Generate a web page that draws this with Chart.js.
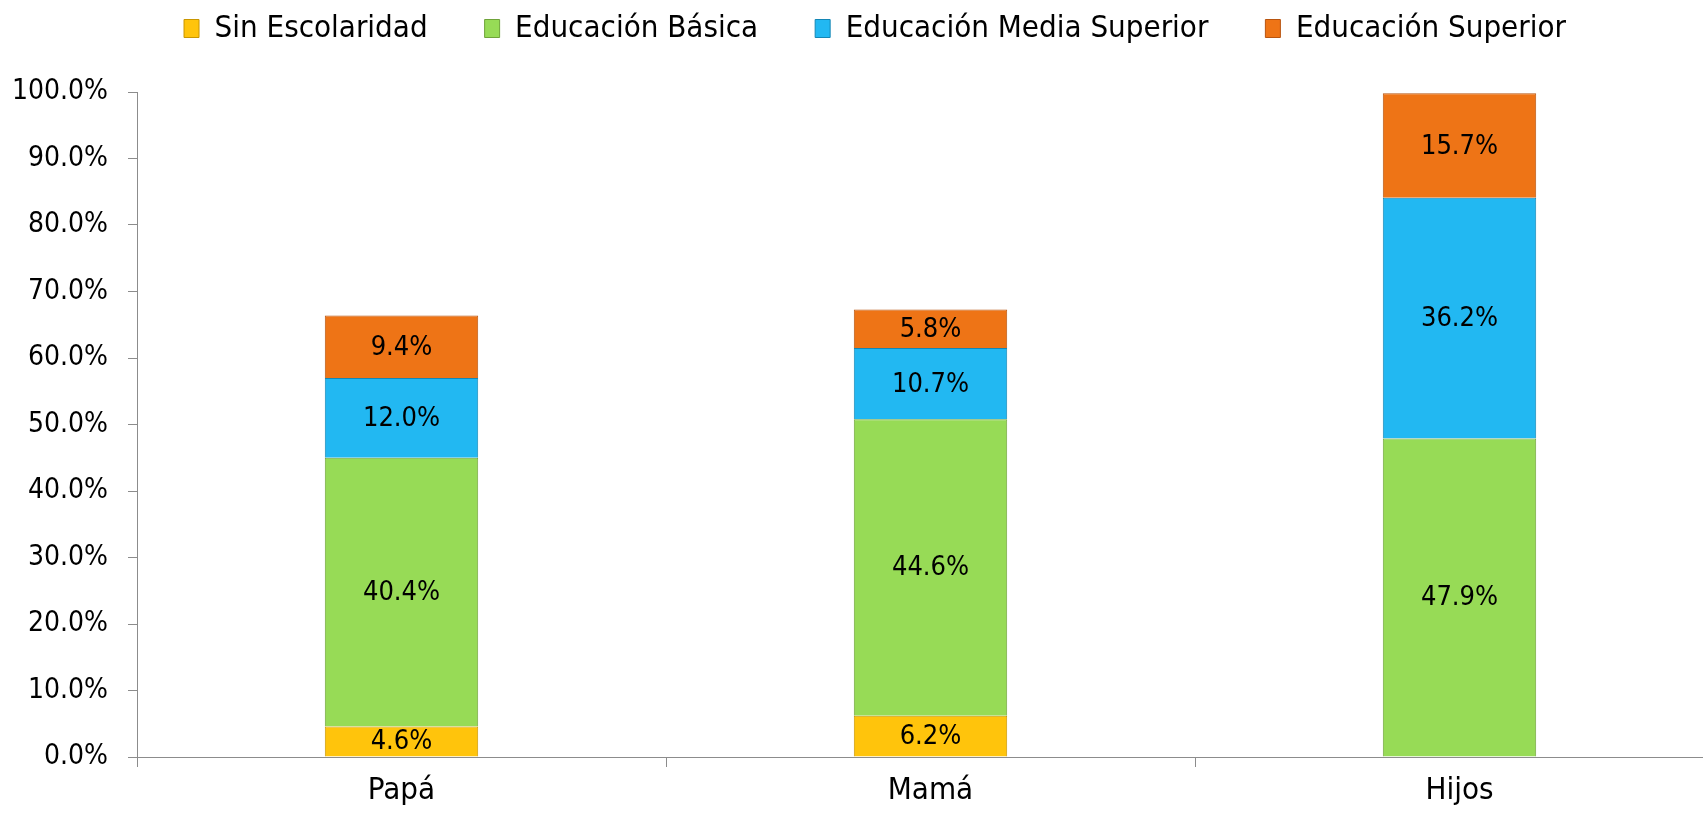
<!DOCTYPE html>
<html>
<head>
<meta charset="utf-8">
<script src="https://cdn.jsdelivr.net/npm/chart.js@4"></script>
<style>
html, body { margin: 0; padding: 0; background: #fff; overflow: hidden; }
#wrap { width: 1724px; height: 814px; }
</style>
</head>
<body>
<div id="wrap"><canvas id="c" width="1724" height="814"></canvas></div>
<script>
const categories = ['Papá', 'Mamá', 'Hijos'];
const seriesNames = ['Sin Escolaridad', 'Educación Básica', 'Educación Media Superior', 'Educación Superior'];
const sinEscolaridad = [4.6, 6.2, null];
const educacionBasica = [40.4, 44.6, 47.9];
const educacionMediaSuperior = [12.0, 10.7, 36.2];
const educacionSuperior = [9.4, 5.8, 15.7];
const yTicks = [0, 10, 20, 30, 40, 50, 60, 70, 80, 90, 100];

const fills = ['#FFC40C', '#97DB56', '#22B8F2', '#EE7416'];
const borders = ['#C99600', '#6FA33A', '#1486B5', '#B85510'];

const seriesValues = [sinEscolaridad, educacionBasica, educacionMediaSuperior, educacionSuperior];

const FONT = '"DejaVu Sans Condensed", "DejaVu Sans", sans-serif';

const dataLabelPlugin = {
  id: 'dataLabels',
  afterDatasetsDraw(chart) {
    const ctx = chart.ctx;
    ctx.save();
    ctx.font = '27px ' + FONT;
    ctx.fillStyle = '#000';
    ctx.textAlign = 'center';
    ctx.textBaseline = 'middle';
    chart.data.datasets.forEach((ds, di) => {
      const meta = chart.getDatasetMeta(di);
      meta.data.forEach((el, i) => {
        const v = ds.data[i];
        if (v === null || v === undefined) return;
        const p = el.getProps(['x', 'y', 'base'], true);
        ctx.fillText(v.toFixed(1) + '%', p.x, (p.y + p.base) / 2 + 1);
      });
    });
    ctx.restore();
  }
};

const legendTweak = {
  id: 'legendTweak',
  afterInit(chart) {
    const lg = chart.legend;
    const origFit = lg.fit.bind(lg);
    lg.fit = function () { origFit(); this.height = 92; };
  },
  afterLayout(chart) {
    const lg = chart.legend;
    lg.left += 13; lg.right += 13;
    lg.top = -44; lg.bottom = lg.top + lg.height;
  }
};

new Chart(document.getElementById('c'), {
  type: 'bar',
  data: {
    labels: categories,
    datasets: seriesNames.map((name, k) => ({
      label: name,
      data: seriesValues[k],
      backgroundColor: fills[k],
      borderColor: borders[k],
      borderWidth: 1,
      categoryPercentage: 1.0,
      barPercentage: 0.29
    }))
  },
  options: {
    responsive: false,
    animation: false,
    layout: { padding: { left: 0, right: 0, top: 0, bottom: 0 } },
    plugins: {
      tooltip: { enabled: false },
      legend: {
        position: 'top',
        labels: {
          font: { family: FONT, size: 31 },
          color: '#000',
          boxWidth: 15,
          boxHeight: 18,
          padding: 57
        }
      }
    },
    scales: {
      x: {
        stacked: true,
        grid: { display: true, drawOnChartArea: false, drawTicks: true, tickLength: 10, offset: true, color: '#8c8c8c' },
        border: { display: true, color: '#8c8c8c', width: 1 },
        ticks: { font: { family: FONT, size: 31 }, color: '#000', padding: 5 },
        afterFit(scale) { scale.height = 57; }
      },
      y: {
        stacked: true,
        min: 0,
        max: 100,
        afterBuildTicks(scale) { scale.ticks = yTicks.map(v => ({ value: v })); },
        grid: { display: true, drawOnChartArea: false, drawTicks: true, tickLength: 9, color: '#8c8c8c' },
        border: { display: true, color: '#8c8c8c', width: 1 },
        ticks: {
          font: { family: FONT, size: 28 },
          color: '#000',
          padding: 20,
          callback: v => Number(v).toFixed(1) + '%'
        },
        afterFit(scale) { scale.width = 137; }
      }
    }
  },
  plugins: [dataLabelPlugin, legendTweak]
});
</script>
</body>
</html>
